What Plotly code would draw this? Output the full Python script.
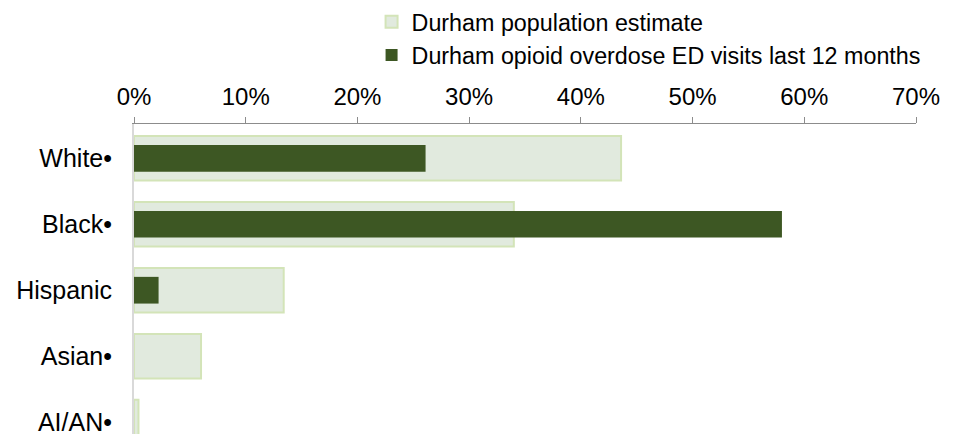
import plotly.graph_objects as go

categories = ["White•", "Black•", "Hispanic", "Asian•", "AI/AN•"]
population_pct = [43.6, 34.0, 13.4, 6.0, 0.4]
ed_visits_pct = [26.1, 58.0, 2.2, 0.0, 0.0]
tick_vals = [0, 10, 20, 30, 40, 50, 60, 70]
tick_text = ["0%", "10%", "20%", "30%", "40%", "50%", "60%", "70%"]

FONT = "Liberation Sans, Arial, sans-serif"

fig = go.Figure()
fig.add_trace(go.Bar(
    name="Durham population estimate",
    y=categories, x=population_pct, orientation="h",
    width=0.676,
    marker=dict(color="#E1EADE", line=dict(color="#D3E4B8", width=2)),
))
fig.add_trace(go.Bar(
    name="Durham opioid overdose ED visits last 12 months",
    y=categories, x=ed_visits_pct, orientation="h",
    width=0.405,
    marker=dict(color="#3D5723", line=dict(width=0)),
))

fig.update_layout(
    width=964, height=434,
    barmode="overlay",
    plot_bgcolor="white", paper_bgcolor="white",
    margin=dict(l=134, r=48, t=124, b=0, autoexpand=False),
    font=dict(family=FONT, size=23.3, color="#000000"),
    showlegend=True,
    hovermode=False,
    legend=dict(
        x=0.3038, xanchor="left", y=1.0, yanchor="top",
        yref="container", orientation="v",
        font=dict(size=23.3), traceorder="normal",
        itemwidth=30, tracegroupgap=0,
        bgcolor="rgba(0,0,0,0)",
    ),
    xaxis=dict(
        side="top", range=[0, 70], tickvals=tick_vals, ticktext=tick_text,
        showgrid=False, zeroline=False, automargin=False,
        showline=True, linecolor="#8C8C8C", linewidth=1,
        ticks="outside", ticklen=6, tickcolor="#8C8C8C",
        ticklabelstandoff=2,
        tickfont=dict(size=24, family=FONT),
    ),
    yaxis=dict(
        categoryorder="array", categoryarray=categories,
        range=[4.18, -0.52], automargin=False,
        showgrid=False, zeroline=False,
        showline=True, linecolor="#D9D9D9", linewidth=2,
        ticks="outside", ticklen=15, tickcolor="rgba(0,0,0,0)",
        tickfont=dict(size=25, family=FONT),
    ),
)

fig.write_html(
    "out.html",
    config={"displayModeBar": False, "staticPlot": True},
    post_script="document.body.style.margin='0';document.body.style.overflow='hidden';",
)
